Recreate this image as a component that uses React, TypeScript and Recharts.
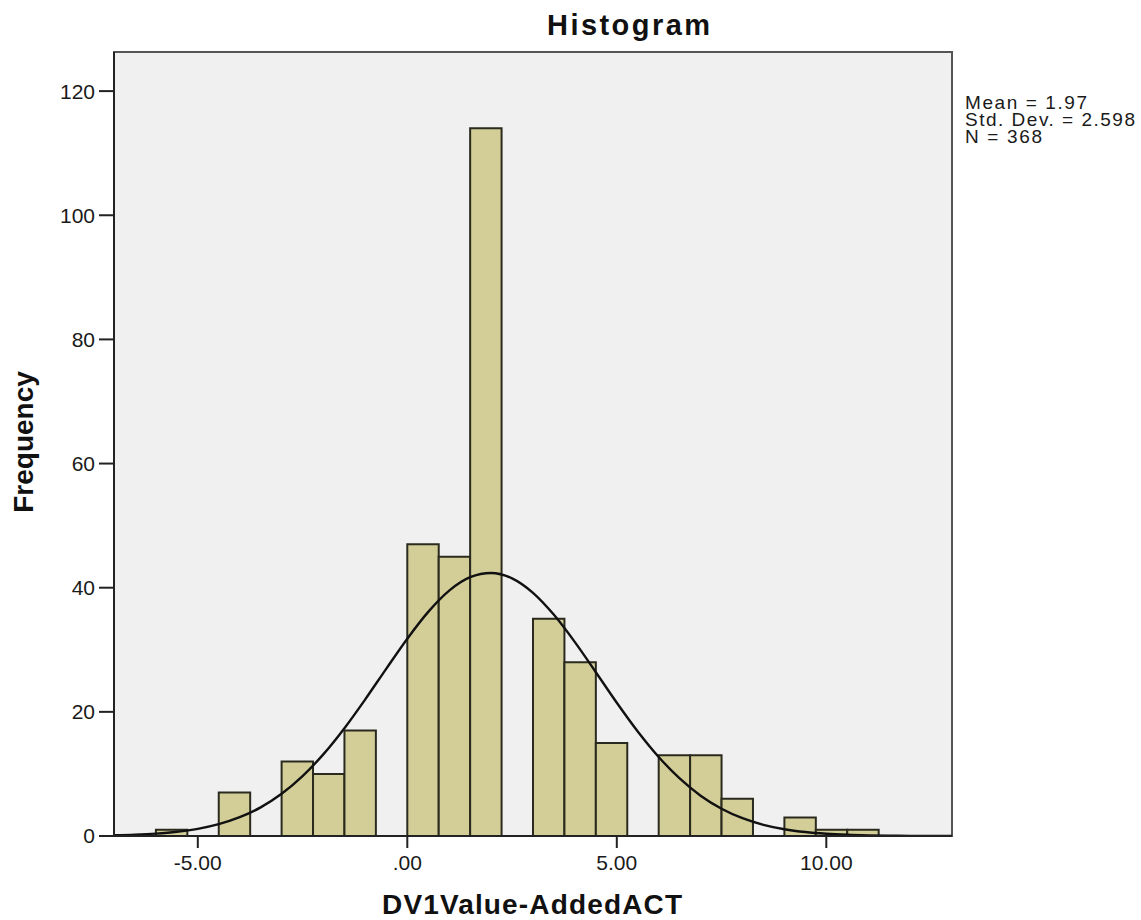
import React from 'react';
import { ComposedChart, Line, XAxis, YAxis, ReferenceArea } from 'recharts';

// Histogram bins (bin edges and frequencies)
const binLefts = [-6, -5.25, -4.5, -3.75, -3, -2.25, -1.5, -0.75, 0, 0.75, 1.5, 2.25, 3, 3.75, 4.5, 5.25, 6, 6.75, 7.5, 8.25, 9, 9.75, 10.5];
const binRights = [-5.25, -4.5, -3.75, -3, -2.25, -1.5, -0.75, 0, 0.75, 1.5, 2.25, 3, 3.75, 4.5, 5.25, 6, 6.75, 7.5, 8.25, 9, 9.75, 10.5, 11.25];
const counts = [1, 0, 7, 0, 12, 10, 17, 0, 47, 45, 114, 0, 35, 28, 15, 0, 13, 13, 6, 0, 3, 1, 1];

// Fitted normal curve (Mean = 1.97, SD = 2.598, N = 368), values at x steps
const curveX = [-7, -6.5, -6, -5.5, -5, -4.5, -4, -3.5, -3, -2.5, -2, -1.5, -1, -0.5, 0, 0.5, 1, 1.5, 2, 2.5, 3, 3.5, 4, 4.5, 5, 5.5, 6, 6.5, 7, 7.5, 8, 8.5, 9, 9.5, 10, 10.5, 11, 11.5, 12, 12.5, 13];
const curveY = [0.109, 0.209, 0.384, 0.679, 1.159, 1.907, 3.024, 4.619, 6.8, 9.65, 13.19, 17.37, 22.05, 26.97, 31.79, 36.11, 39.53, 41.69, 42.38, 41.51, 39.18, 35.63, 31.23, 26.38, 21.47, 16.84, 12.73, 9.27, 6.5, 4.4, 2.87, 1.8, 1.09, 0.635, 0.357, 0.193, 0.101, 0.051, 0.025, 0.011, 0.005];

// Axis ticks
const xTicks = [-5, 0, 5, 10];
const xTickLabels = ['-5.00', '.00', '5.00', '10.00'];
const yTicks = [0, 20, 40, 60, 80, 100, 120];

const statsLines = ['Mean = 1.97', 'Std. Dev. = 2.598', 'N = 368'];

const curveData = curveX.map((x, i) => ({ x, y: curveY[i] }));

const FONT = 'Arial, "Liberation Sans", sans-serif';

export default function App() {
  return (
    <div style={{ position: 'absolute', left: 0, top: 0, width: 1141, height: 920, background: '#fff' }}>
      <ComposedChart
        width={1141}
        height={920}
        data={curveData}
        margin={{ top: 52, right: 189, bottom: 0, left: 0 }}
      >
        <XAxis
          dataKey="x"
          type="number"
          domain={[-7, 13]}
          allowDataOverflow
          ticks={xTicks}
          tickFormatter={(v: number) => xTickLabels[xTicks.indexOf(v)] ?? String(v)}
          height={84}
          tickSize={12}
          tickMargin={7}
          axisLine={{ stroke: '#222', strokeWidth: 2 }}
          tickLine={{ stroke: '#222', strokeWidth: 2 }}
          tick={{ fill: '#1a1a1a', fontSize: 21, fontFamily: FONT }}
        />
        <YAxis
          type="number"
          domain={[0, 126.3]}
          allowDataOverflow
          ticks={yTicks}
          width={114}
          tickSize={15}
          tickMargin={4}
          axisLine={{ stroke: '#222', strokeWidth: 2 }}
          tickLine={{ stroke: '#222', strokeWidth: 2 }}
          tick={{ fill: '#1a1a1a', fontSize: 21, fontFamily: FONT }}
        />
        <ReferenceArea
          x1={-7}
          x2={13}
          y1={0}
          y2={126.3}
          fill="#F0F0F0"
          fillOpacity={1}
          stroke="#555"
          strokeWidth={2}
        />
        {counts.map((c, i) =>
          c > 0 ? (
            <ReferenceArea
              key={i}
              x1={binLefts[i]}
              x2={binRights[i]}
              y1={0}
              y2={c}
              fill="#D3CE98"
              fillOpacity={1}
              stroke="#2A2A1E"
              strokeWidth={2}
            />
          ) : null
        )}
        <Line
          dataKey="y"
          type="monotone"
          stroke="#111"
          strokeWidth={2.4}
          dot={false}
          activeDot={false}
          isAnimationActive={false}
        />
      </ComposedChart>
      <svg
        width={1141}
        height={920}
        style={{ position: 'absolute', left: 0, top: 0, pointerEvents: 'none' }}
      >
        <text x={547} y={35} fontFamily={FONT} fontWeight="bold" fontSize={29} fill="#111" textLength={163} lengthAdjust="spacing">
          Histogram
        </text>
        <text
          x={33}
          y={442}
          fontFamily={FONT}
          fontWeight="bold"
          fontSize={28}
          fill="#111"
          textAnchor="middle"
          transform="rotate(-90 33 442)"
        >
          Frequency
        </text>
        <text x={532} y={914} fontFamily={FONT} fontWeight="bold" fontSize={28} fill="#111" textAnchor="middle" textLength={300} lengthAdjust="spacing">
          DV1Value-AddedACT
        </text>
        {statsLines.map((s, i) => (
          <text
            key={s}
            x={965}
            y={109 + i * 17}
            fontFamily={FONT}
            fontSize={19}
            fill="#1a1a1a"
            textLength={[122, 170, 77][i]}
            lengthAdjust="spacing"
          >
            {s}
          </text>
        ))}
      </svg>
    </div>
  );
}
